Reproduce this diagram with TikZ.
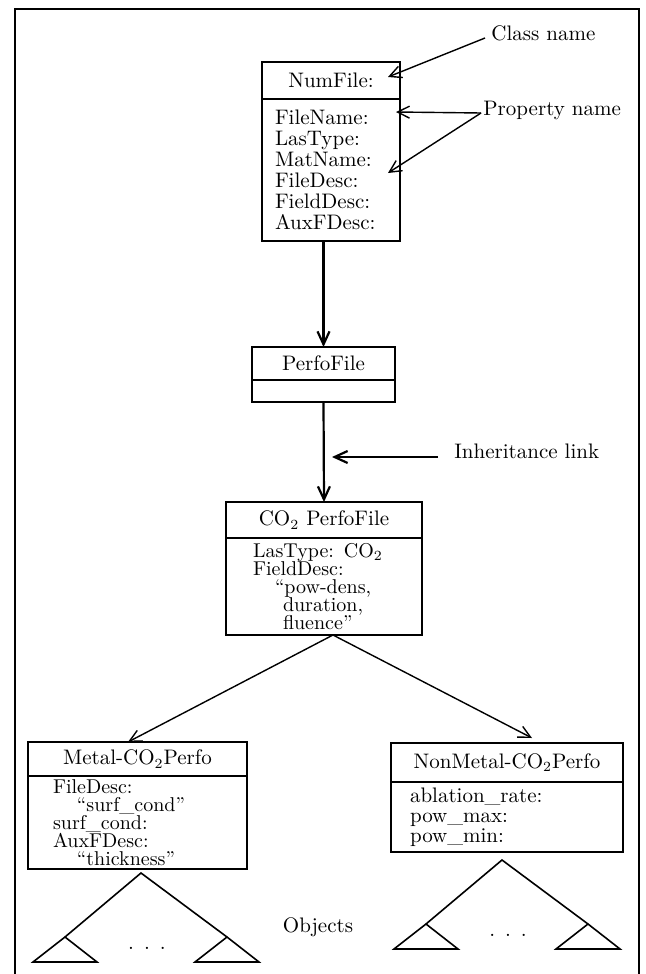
\documentclass[tikz,border=0pt]{standalone}
\usepackage{tikz}
\usetikzlibrary{arrows.meta, positioning}

\begin{document}
\begin{tikzpicture}[x=0.5pt, y=-0.5pt, font=\fontsize{10.5}{12}\selectfont,
  head/.style={draw, line width=1pt, inner sep=0pt, outer sep=0pt},
  body/.style={draw, line width=1pt, inner ysep=0pt, outer sep=0pt, align=left},
  note/.style={anchor=west, inner sep=0pt},
  link/.style={-{Straight Barb[length=6.5pt,width=6pt]}, line width=1.1pt},
  thin/.style={-{Straight Barb[length=6pt,width=6pt]}, line width=0.7pt}]
  \useasboundingbox (0,0) rectangle (645,974);
  % frame
  \draw[line width=0.8pt] (15,990) -- (15,9) -- (639,9) -- (639,990);
  % classes
  \node[head, anchor=north west, minimum width=69pt, minimum height=18.5pt] (numfile) at (262,62) {NumFile:};
  \node[body, below=0pt of numfile, text width=56pt, inner xsep=6.5pt, minimum height=71pt,
        font=\fontsize{10.5}{10.5}\selectfont] (numbody)
    {FileName:\\LasType:\\MatName:\\FileDesc:\\FieldDesc:\\AuxFDesc:};
  \node[head, anchor=north west, minimum width=71.5pt, minimum height=16.5pt] (perfo) at (252,347) {PerfoFile};
  \node[body, below=0pt of perfo, minimum width=71.5pt, minimum height=11pt] (perfobody) {};
  \node[head, anchor=north west, minimum width=98pt, minimum height=18pt] (co2) at (226,502) {CO$_2$ PerfoFile};
  \node[body, below=0pt of co2, text width=71pt, inner xsep=13.5pt, minimum height=48.5pt,
        font=\fontsize{10}{9}\selectfont] (co2body)
    {LasType: CO$_2$\\FieldDesc:\\\hspace*{11pt}``pow-dens,\\\hspace*{15pt}duration,\\\hspace*{15pt}fluence''};
  \node[head, anchor=north west, minimum width=109.5pt, minimum height=17pt] (metal) at (28,742) {Metal-CO$_2$Perfo};
  \node[body, below=0pt of metal, text width=84.5pt, inner xsep=12.5pt, minimum height=46.5pt,
        font=\fontsize{10}{9}\selectfont] (metalbody)
    {FileDesc:\\\hspace*{12pt}``surf\_cond''\\surf\_cond:\\AuxFDesc:\\\hspace*{12pt}``thickness''};
  \node[head, anchor=north west, minimum width=116pt, minimum height=19.5pt] (nonmetal) at (391,743) {NonMetal-CO$_2$Perfo};
  \node[body, below=0pt of nonmetal, text width=97pt, inner xsep=9.5pt, minimum height=35pt,
        font=\fontsize{10.5}{10}\selectfont] (nonmetalbody)
    {ablation\_rate:\\pow\_max:\\pow\_min:};
  % inheritance links
  \draw[link] (numbody.south -| perfo.north) -- (perfo.north);
  \draw[link] (perfobody.south) -- (co2.north);
  \draw[thin] ([xshift=4.5pt]co2body.south) -- ([xshift=-4.75pt]metal.north);
  \draw[thin] ([xshift=4.5pt]co2body.south) -- ([xshift=12.5pt,yshift=2.5pt]nonmetal.north);
  % notes
  \node[note] (classname) at (491,33) {Class name};
  \node[note] (propname) at (483,110) {Property name};
  \node[note] (inherit) at (454,451) {Inheritance link};
  \node (objects) at (318,927) {Objects};
  \coordinate (proptop) at (396,112);
  \coordinate (propbot) at (388,173);
  \coordinate (inhtip) at (332,457);
  \draw[thin] ([shift={(-3pt,-2.5pt)}]classname.west) -- ([xshift=-6pt,yshift=1.75pt]numfile.east);
  \draw[thin] ([shift={(-1pt,-1.5pt)}]propname.west) -- (proptop);
  \draw[thin] ([shift={(-1pt,-1.5pt)}]propname.west) -- (propbot);
  \draw[link] ([shift={(-8pt,-3pt)}]inherit.west) -- (inhtip);
  % object trees
  \foreach \ax/\ay in {141/873, 502/860} {
    \draw[line width=0.8pt] (\ax-76,\ay+64) -- (\ax,\ay) -- (\ax+86,\ay+64);
    \foreach \sx in {-76, 86}
      \draw[line width=0.8pt] (\ax+\sx-32,\ay+89) -- (\ax+\sx,\ay+64) -- (\ax+\sx+32,\ay+89) -- cycle;
    \node[anchor=base] (dots-\ax) at (\ax+6,\ay+76) {.\hspace{5pt}.\hspace{5pt}.};
  }
\end{tikzpicture}
\end{document}
